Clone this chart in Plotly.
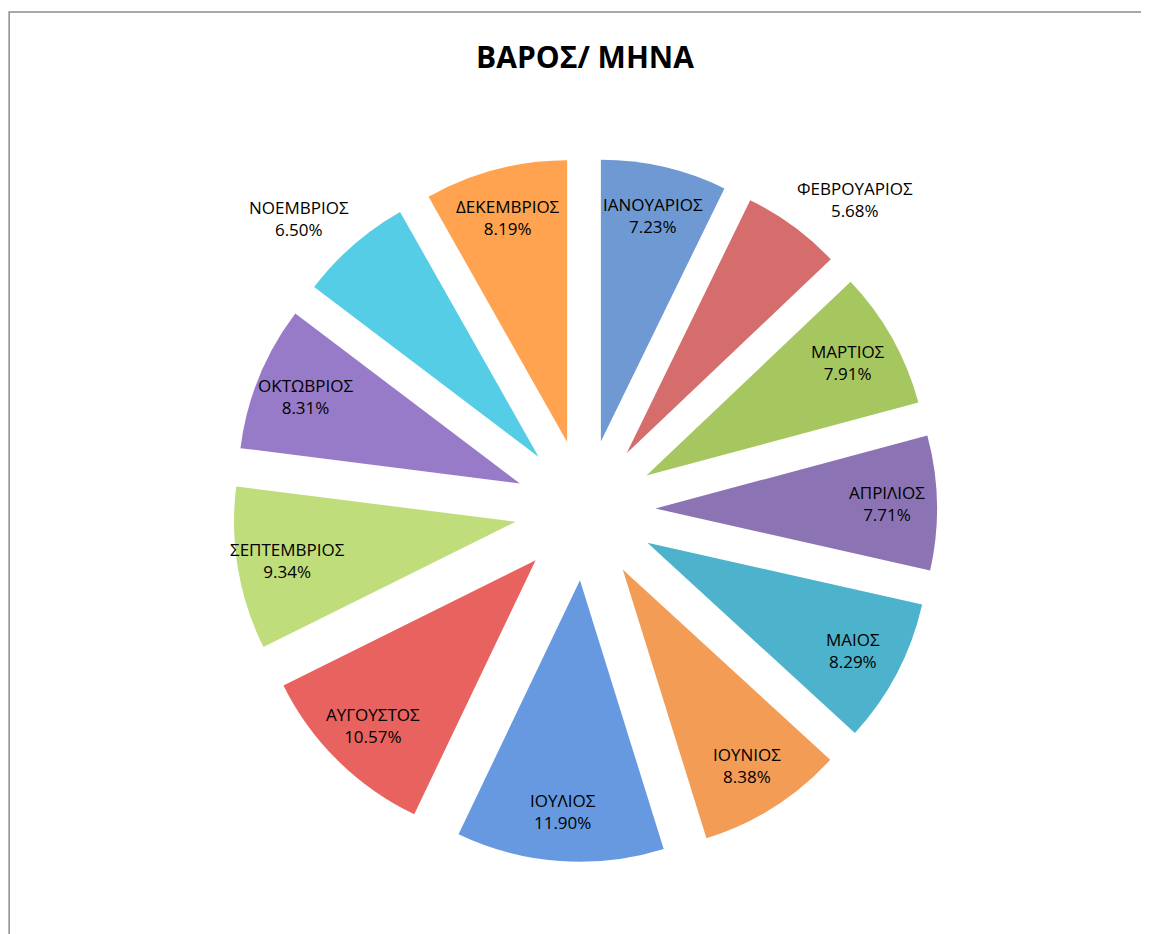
import math

import plotly.graph_objects as go

months = [
    "ΙΑΝΟΥΑΡΙΟΣ", "ΦΕΒΡΟΥΑΡΙΟΣ", "ΜΑΡΤΙΟΣ", "ΑΠΡΙΛΙΟΣ", "ΜΑΙΟΣ", "ΙΟΥΝΙΟΣ",
    "ΙΟΥΛΙΟΣ", "ΑΥΓΟΥΣΤΟΣ", "ΣΕΠΤΕΜΒΡΙΟΣ", "ΟΚΤΩΒΡΙΟΣ", "ΝΟΕΜΒΡΙΟΣ", "ΔΕΚΕΜΒΡΙΟΣ",
]
shares = [7.23, 5.68, 7.91, 7.71, 8.29, 8.38, 11.90, 10.57, 9.34, 8.31, 6.50, 8.19]

colors = [
    "#6F99D2", "#D46D6B", "#A6C760", "#8C74B4", "#4DB2CC", "#F39C55",
    "#6699E0", "#E8625F", "#BFDD7A", "#987BC8", "#56CDE6", "#FFA350",
]
# labels that Excel put outside their slice
outside = ["ΦΕΒΡΟΥΑΡΙΟΣ", "ΝΟΕΜΒΡΙΟΣ"]

W, H = 1149, 934
cx, cy = 0.5022, 0.4625          # pie centre in paper coords
half = 352                        # radius incl. pull, px
dom_x = [cx - half / W, cx + half / W]
dom_y = [cy - half / H, cy + half / H]

fig = go.Figure(
    go.Pie(
        labels=months,
        values=shares,
        sort=False,
        direction="clockwise",
        rotation=0,
        pull=[0.25] * len(months),
        marker=dict(colors=colors, line=dict(width=0)),
        textinfo="none",
        domain=dict(x=dom_x, y=dom_y),
        hoverinfo="label+percent",
    )
)

# data labels, Excel "best fit" style
total = sum(shares)
cum = 0.0
for name, v in zip(months, shares):
    theta = 2 * math.pi * (cum + v / 2) / total
    cum += v
    sx, cy_ = math.sin(theta), math.cos(theta)
    if name in outside:
        d = 355
        xanchor = "left" if sx > 0 else "right"
        yanchor = "bottom" if cy_ > 0 else "top"
    else:
        d = 302
        xanchor, yanchor = "center", "middle"
    fig.add_annotation(
        x=cx + d * sx / W,
        y=cy + d * cy_ / H,
        xref="paper",
        yref="paper",
        text=f"{name}<br>{v / total * 100:.2f}%",
        showarrow=False,
        xanchor=xanchor,
        yanchor=yanchor,
        font=dict(family="Open Sans, sans-serif", size=17, color="black"),
    )

fig.update_layout(
    width=W,
    height=H,
    margin=dict(l=0, r=0, t=0, b=0, autoexpand=False),
    paper_bgcolor="white",
    plot_bgcolor="white",
    showlegend=False,
    title=dict(
        text="<b>ΒΑΡΟΣ/ ΜΗΝΑ</b>",
        x=0.5022,
        xanchor="center",
        y=0.9475,
        yanchor="middle",
        font=dict(family="Open Sans, sans-serif", size=30, color="black"),
    ),
    shapes=[
        # chart-area border (only top and left edges fall inside the view)
        dict(type="rect", xref="paper", yref="paper",
             x0=0.001, x1=1.05, y0=-0.05, y1=0.9957,
             line=dict(color="#8c8c8c", width=1.5)),
    ],
)

fig.write_html("out.html")
